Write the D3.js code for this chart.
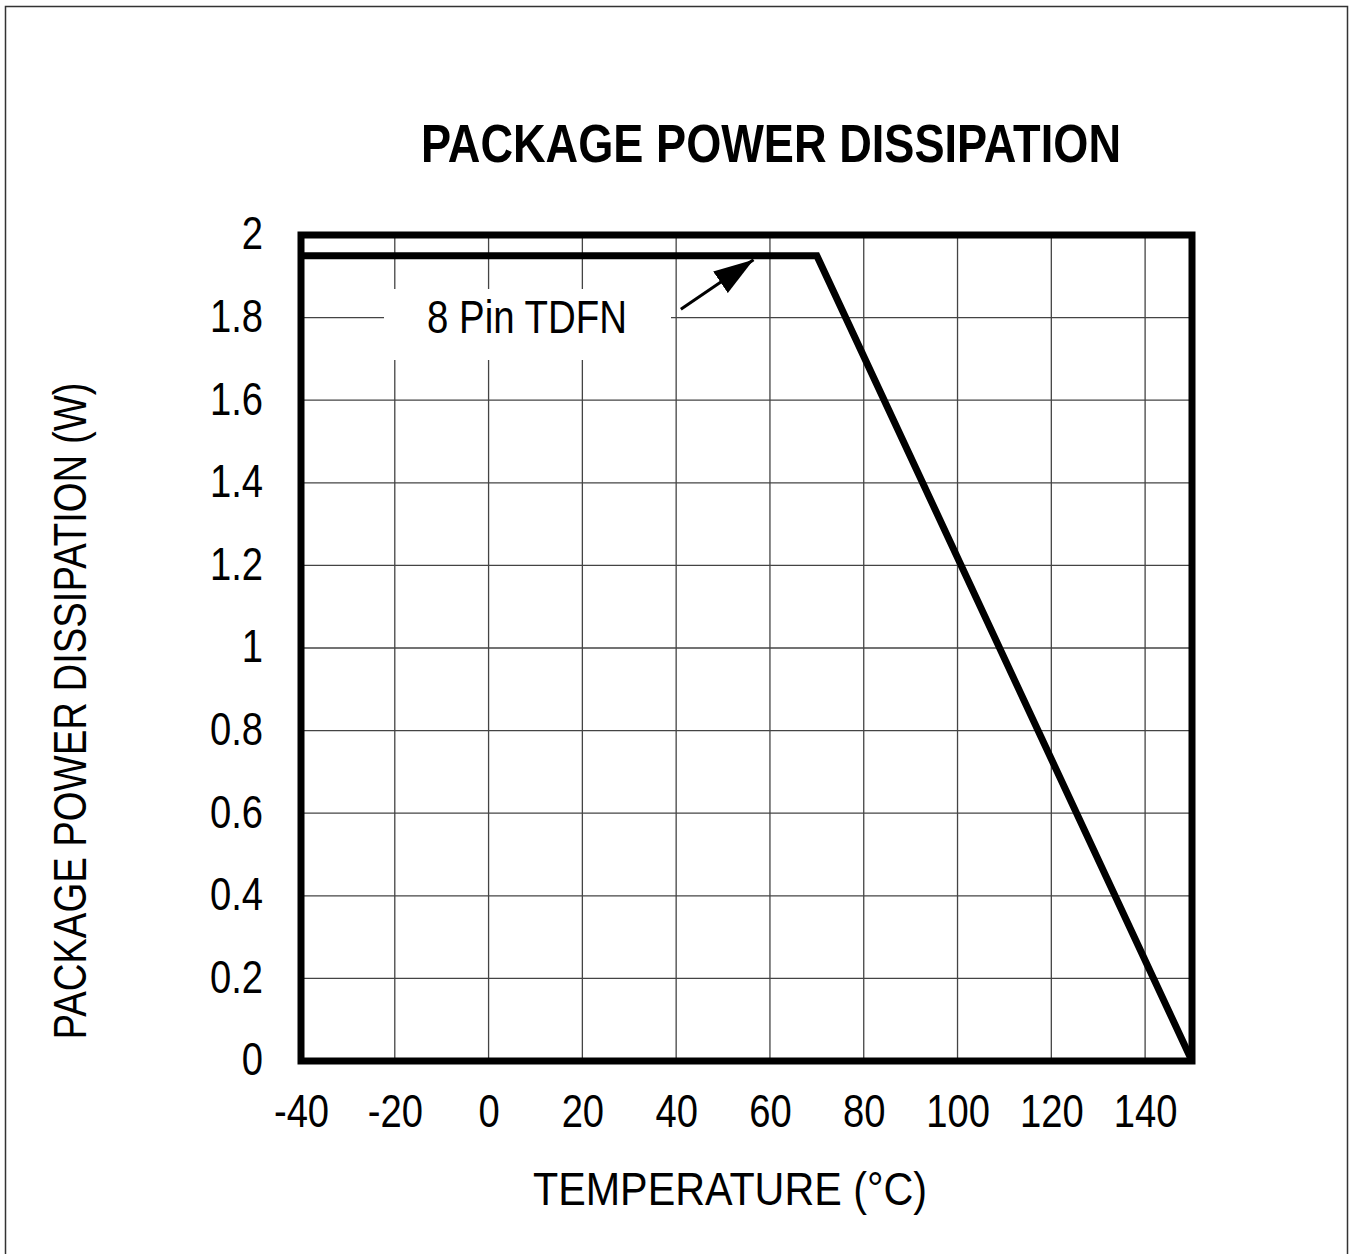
<!DOCTYPE html>
<html>
<head>
<meta charset="utf-8">
<script src="https://cdn.jsdelivr.net/npm/d3@7"></script>
<style>
  body { margin: 0; background: #fff; }
  text { font-family: "Liberation Sans Narrow", "Arial Narrow", "Liberation Sans", Arial, sans-serif; fill: #000; }
</style>
</head>
<body>
<svg id="chart" width="1350" height="1254"></svg>
<script>
// data
var temps = [-40, 70, 150];
var power = [1.95, 1.95, 0];
var xTicks = [-40, -20, 0, 20, 40, 60, 80, 100, 120, 140];
var yTicks = [0, 0.2, 0.4, 0.6, 0.8, 1, 1.2, 1.4, 1.6, 1.8, 2];
var seriesName = "8 Pin TDFN";
var arrowTail = [41, 1.82];
var arrowTip = [56.5, 1.94];

var svg = d3.select("#chart");
var margin = {top: 235, right: 158, bottom: 193, left: 301};
var W = 1350, H = 1254;

var x = d3.scaleLinear().domain([-40, 150]).range([margin.left, W - margin.right]);
var y = d3.scaleLinear().domain([0, 2]).range([H - margin.bottom, margin.top]);

// squeeze a text element horizontally to mimic a narrow face
function narrow(sel, k) {
    sel.each(function(){
        var len = this.getComputedTextLength();
        d3.select(this).attr("textLength", len * k).attr("lengthAdjust", "spacingAndGlyphs");
    });
}

// outer frame (no bottom edge)
svg.append("path")
    .attr("d", "M5.5,1254 V6.5 H1347.5 V1254")
    .attr("fill", "none")
    .attr("stroke", "#333")
    .attr("stroke-width", 1.5);

// title
svg.append("text")
    .attr("x", 771).attr("y", 162)
    .attr("text-anchor", "middle")
    .attr("font-size", 54).attr("font-weight", "bold")
    .attr("textLength", 700).attr("lengthAdjust", "spacingAndGlyphs")
    .text("PACKAGE POWER DISSIPATION");

// grid
var grid = svg.append("g").attr("class", "grid");
grid.selectAll(".vx").data(xTicks.slice(1)).enter().append("line")
    .attr("x1", function(d){ return x(d); }).attr("x2", function(d){ return x(d); })
    .attr("y1", y(2)).attr("y2", y(0))
    .attr("stroke", "#444").attr("stroke-width", 1.3);
grid.selectAll(".hy").data(yTicks.slice(1, -1)).enter().append("line")
    .attr("y1", function(d){ return y(d); }).attr("y2", function(d){ return y(d); })
    .attr("x1", x(-40)).attr("x2", x(150))
    .attr("stroke", "#444").attr("stroke-width", 1.3);

// axes (labels only, frame drawn separately)
var xAxis = svg.append("g")
    .attr("transform", "translate(0," + y(0) + ")")
    .call(d3.axisBottom(x).tickValues(xTicks).tickSize(0).tickPadding(0).tickFormat(function(d){ return String(d); }));
xAxis.select(".domain").remove();
xAxis.attr("font-family", null).attr("font-size", null);
xAxis.selectAll("text")
    .attr("y", 66).attr("dy", 0)
    .attr("font-size", 46);

var yAxis = svg.append("g")
    .attr("transform", "translate(263,0)")
    .call(d3.axisLeft(y).tickValues(yTicks).tickSize(0).tickPadding(0).tickFormat(function(d){ return String(+d.toFixed(1)); }));
yAxis.select(".domain").remove();
yAxis.attr("font-family", null).attr("font-size", null);
yAxis.selectAll("text")
    .attr("x", 0).attr("dy", "0.3em")
    .attr("font-size", 46);
narrow(svg.selectAll(".tick text"), 0.83);

// white box behind annotation
svg.append("rect")
    .attr("x", 384).attr("y", 289).attr("width", 287).attr("height", 71)
    .attr("fill", "#fff");

svg.append("text")
    .attr("x", 527).attr("y", 333)
    .attr("text-anchor", "middle")
    .attr("font-size", 46)
    .text(seriesName)
    .call(narrow, 0.835);

// arrow
var defs = svg.append("defs");
defs.append("marker")
    .attr("id", "head")
    .attr("viewBox", "0 0 10 10")
    .attr("refX", 10).attr("refY", 5)
    .attr("markerWidth", 40).attr("markerHeight", 26)
    .attr("markerUnits", "userSpaceOnUse")
    .attr("orient", "auto")
    .attr("preserveAspectRatio", "none")
    .append("path").attr("d", "M0,0 L10,5 L0,10 Z").attr("fill", "#000");

svg.append("line")
    .attr("x1", x(arrowTail[0])).attr("y1", y(arrowTail[1]))
    .attr("x2", x(arrowTip[0])).attr("y2", y(arrowTip[1]))
    .attr("stroke", "#000").attr("stroke-width", 3)
    .attr("marker-end", "url(#head)");

// data line
var line = d3.line()
    .x(function(d, i){ return x(temps[i]); })
    .y(function(d){ return y(d); });
svg.append("path")
    .datum(power)
    .attr("d", line)
    .attr("fill", "none")
    .attr("stroke", "#000")
    .attr("stroke-width", 7)
    .attr("stroke-linejoin", "miter");

// plot frame
svg.append("rect")
    .attr("x", x(-40)).attr("y", y(2))
    .attr("width", x(150) - x(-40)).attr("height", y(0) - y(2))
    .attr("fill", "none")
    .attr("stroke", "#000")
    .attr("stroke-width", 7);

// axis titles
svg.append("text")
    .attr("x", 730).attr("y", 1205)
    .attr("text-anchor", "middle")
    .attr("font-size", 46)
    .attr("textLength", 394).attr("lengthAdjust", "spacingAndGlyphs")
    .text("TEMPERATURE (°C)");

svg.append("text")
    .attr("transform", "translate(86,711) rotate(-90)")
    .attr("text-anchor", "middle")
    .attr("font-size", 46)
    .attr("textLength", 657).attr("lengthAdjust", "spacingAndGlyphs")
    .text("PACKAGE POWER DISSIPATION (W)");
</script>
</body>
</html>
